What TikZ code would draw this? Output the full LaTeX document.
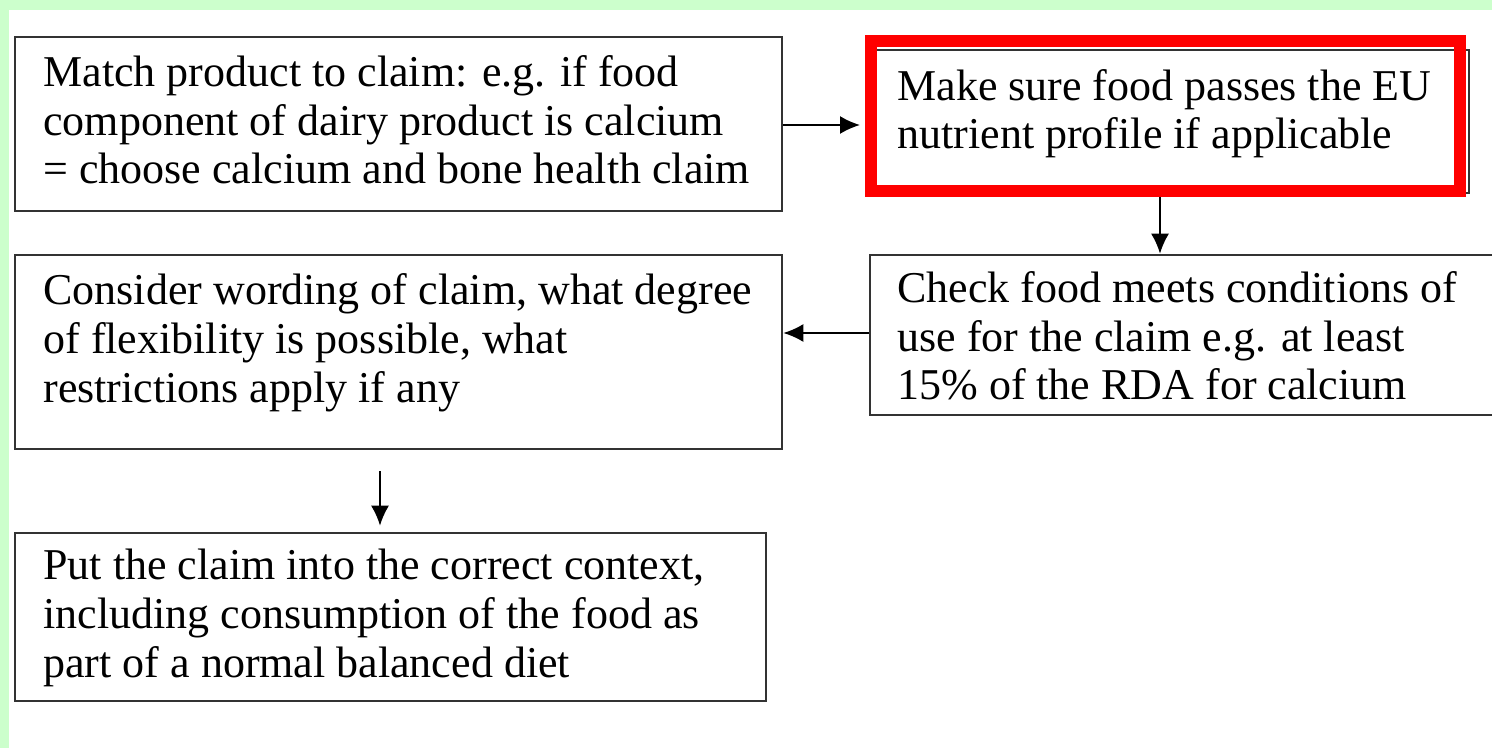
\documentclass[tikz,border=0pt]{standalone}
\usepackage{fontspec}
\setmainfont{Liberation Serif}
\usetikzlibrary{arrows.meta}
\definecolor{bggreen}{RGB}{204,255,204}
\definecolor{redframe}{RGB}{255,0,0}
\begin{document}
\begin{tikzpicture}[x=0.5pt,y=-0.5pt,
  box/.style={draw=black!80, line width=1.3pt, inner sep=0pt, rectangle},
  txt/.style={anchor=base west, inner sep=0pt, align=left, text=black,
    font=\fontsize{22pt}{24.3pt}\selectfont},
  conn/.style={draw=black, line width=1pt, -{Latex[length=10pt,width=9pt]}}]
\useasboundingbox (0,0) rectangle (1492,748);
\fill[white] (0,0) rectangle (1492,748);
\fill[bggreen] (0,0) rectangle (1492,10);
\fill[bggreen] (0,0) rectangle (9,748);
% boxes
\node[box, minimum width=383.5pt, minimum height=87pt] (A) at (398.5,124) {};
\node[box, minimum width=299.5pt, minimum height=71.5pt] (B) at (1169.5,121.5) {};
\node[box, minimum width=315pt, minimum height=80pt] (C) at (1185,335) {};
\node[box, minimum width=383.5pt, minimum height=97pt] (D) at (398.5,352) {};
\node[box, minimum width=375.5pt, minimum height=84pt] (E) at (390.5,617) {};
\node[draw=redframe, line width=6pt, inner sep=0pt, minimum width=294.5pt, minimum height=75pt] (R) at (1165.5,116) {};
% texts (anchor at baseline of last line)
\node[txt] (tA) at (43,184) {Match product to claim: e.g. if food\\component of dairy product is calcium\\= choose calcium and bone health claim};
\node[txt] (tB) at (897,149) {Make sure food passes the EU\\nutrient profile if applicable};
\node[txt] (tC) at (897,400) {Check food meets conditions of\\use for the claim e.g. at least\\15\% of the RDA for calcium};
\node[txt] (tD) at (43,402) {Consider wording of claim, what degree\\of flexibility is possible, what\\restrictions apply if any};
\node[txt] (tE) at (43,677) {Put the claim into the correct context,\\including consumption of the food as\\part of a normal balanced diet};
% connectors
\draw[conn, shorten >=2.5pt] (A.east |- 0,125) -- (R.west |- 0,125);
\draw[conn] ([xshift=-2.75pt]R.south) -- ([xshift=-2.75pt]R.south |- C.north);
\draw[conn] (C.west |- 0,333) -- (D.east |- 0,333);
\draw[conn, shorten >=3pt] ([xshift=-9.25pt,yshift=-10.5pt]D.south) -- ([xshift=-9.25pt]D.south |- E.north);
\end{tikzpicture}
\end{document}
